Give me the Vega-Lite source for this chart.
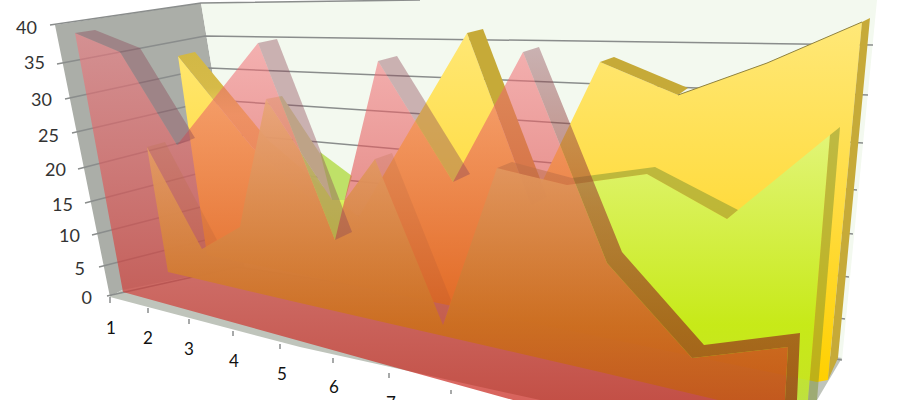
{"$schema":"https://vega.github.io/schema/vega-lite/v6.json","width":900,"height":400,"padding":0,"autosize":"none","background":"white","view":{"stroke":null},
"datasets":{
"leftWall":[{"k":"a","i":0,"pos":5.5,"value":40.44},{"k":"a","i":1,"pos":20.1,"value":43.7},{"k":"a","i":2,"pos":25,"value":-0.3},{"k":"a","i":3,"pos":12.2,"value":1.19},{"k":"a","i":4,"pos":11,"value":0.15}],
"backWall":[{"k":"a","i":0,"pos":20.1,"value":43.7},{"k":"a","i":1,"pos":42,"value":44.15},{"k":"a","i":2,"pos":87.7,"value":44.15},{"k":"a","i":3,"pos":84.2,"value":-9.19},{"k":"a","i":4,"pos":25,"value":-0.3}],
"floor":[{"k":"a","i":0,"pos":11,"value":0.15},{"k":"a","i":1,"pos":12.2,"value":1.19},{"k":"a","i":2,"pos":23.8,"value":4.59},{"k":"a","i":3,"pos":84.2,"value":-8.89},{"k":"a","i":4,"pos":81.7,"value":-15.11},{"k":"a","i":5,"pos":54,"value":-15.11},{"k":"a","i":6,"pos":30,"value":-7.26}],
"grid":[
{"k":"g40","i":0,"pos":5,"value":40.44},{"k":"g40","i":1,"pos":20.1,"value":43.7},{"k":"g40","i":2,"pos":42,"value":44.15},
{"k":"g35","i":0,"pos":5.7,"value":34.67},{"k":"g35","i":1,"pos":20.5,"value":38.81},{"k":"g35","i":2,"pos":87.3,"value":37.48},
{"k":"g30","i":0,"pos":6.5,"value":29.48},{"k":"g30","i":1,"pos":20.9,"value":34.07},{"k":"g30","i":2,"pos":86.8,"value":30.07},
{"k":"g25","i":0,"pos":7.2,"value":24.44},{"k":"g25","i":1,"pos":21.4,"value":29.33},{"k":"g25","i":2,"pos":86.3,"value":22.96},
{"k":"g20","i":0,"pos":7.8,"value":19.11},{"k":"g20","i":1,"pos":21.8,"value":24.44},{"k":"g20","i":2,"pos":85.7,"value":16},
{"k":"g15","i":0,"pos":8.5,"value":14.07},{"k":"g15","i":1,"pos":22.3,"value":19.41},{"k":"g15","i":2,"pos":85.3,"value":9.48},
{"k":"g10","i":0,"pos":9.2,"value":9.33},{"k":"g10","i":1,"pos":22.8,"value":14.52},{"k":"g10","i":2,"pos":84.9,"value":3.11},
{"k":"g5","i":0,"pos":9.9,"value":4.59},{"k":"g5","i":1,"pos":23.3,"value":9.63},{"k":"g5","i":2,"pos":84.5,"value":-3.11},
{"k":"g0","i":0,"pos":10.7,"value":0.3},{"k":"g0","i":1,"pos":23.8,"value":4.59},{"k":"g0","i":2,"pos":84.2,"value":-9.19},
{"k":"t1","i":0,"pos":11,"value":0.15},{"k":"t1","i":1,"pos":11,"value":-0.74},
{"k":"t2","i":0,"pos":14.8,"value":-1.48},{"k":"t2","i":1,"pos":14.8,"value":-2.22},
{"k":"t3","i":0,"pos":18.9,"value":-3.11},{"k":"t3","i":1,"pos":18.9,"value":-3.85},
{"k":"t4","i":0,"pos":23.3,"value":-4.89},{"k":"t4","i":1,"pos":23.3,"value":-5.63},
{"k":"t5","i":0,"pos":28,"value":-6.81},{"k":"t5","i":1,"pos":28,"value":-7.56},
{"k":"t6","i":0,"pos":33.3,"value":-8.89},{"k":"t6","i":1,"pos":33.3,"value":-9.63},
{"k":"t7","i":0,"pos":38.9,"value":-11.11},{"k":"t7","i":1,"pos":38.9,"value":-11.85},
{"k":"t8","i":0,"pos":45.1,"value":-13.63},{"k":"t8","i":1,"pos":45.1,"value":-14.22}],
"yellowFace":[{"k":"a","i":0,"pos":17.8,"value":35.85},{"k":"a","i":1,"pos":25.2,"value":22.37},{"k":"a","i":2,"pos":35,"value":9.78},{"k":"a","i":3,"pos":46.7,"value":39.26},{"k":"a","i":4,"pos":53.1,"value":13.78},{"k":"a","i":5,"pos":60,"value":34.96},{"k":"a","i":6,"pos":67.8,"value":30.07},{"k":"a","i":7,"pos":76.7,"value":34.81},{"k":"a","i":8,"pos":86.2,"value":40.89},{"k":"a","i":9,"pos":82.8,"value":-12.15},{"k":"a","i":10,"pos":81.7,"value":-12.44},{"k":"a","i":11,"pos":20.7,"value":6.37}],
"yellowFirstBand":[
{"k":"y1","i":0,"pos":17.8,"value":35.85},{"k":"y1","i":1,"pos":25.2,"value":22.37},{"k":"y1","i":2,"pos":35,"value":9.78},{"k":"y1","i":3,"pos":36.8,"value":10.81},{"k":"y1","i":4,"pos":26.8,"value":23.41},{"k":"y1","i":5,"pos":19.5,"value":36.44}],
"yellowBands":[
{"k":"y2","i":0,"pos":46.7,"value":39.26},{"k":"y2","i":1,"pos":48.3,"value":39.85},{"k":"y2","i":2,"pos":54.7,"value":14.96},{"k":"y2","i":3,"pos":53.1,"value":13.78},
{"k":"y3","i":0,"pos":60,"value":34.96},{"k":"y3","i":1,"pos":61.4,"value":35.7},{"k":"y3","i":2,"pos":68.8,"value":31.11},{"k":"y3","i":3,"pos":67.8,"value":30.07},
{"k":"y4","i":0,"pos":86.2,"value":40.89},{"k":"y4","i":1,"pos":87,"value":41.48},{"k":"y4","i":2,"pos":83.8,"value":-8.89},{"k":"y4","i":3,"pos":82.8,"value":-12.15}],
"yellowEdge":[{"k":"e","i":0,"pos":67.8,"value":30.07},{"k":"e","i":1,"pos":76.7,"value":34.81},{"k":"e","i":2,"pos":86.2,"value":40.89}],
"greenFace":[{"k":"a","i":0,"pos":14.7,"value":22.37},{"k":"a","i":1,"pos":20.2,"value":7.26},{"k":"a","i":2,"pos":24,"value":10.52},{"k":"a","i":3,"pos":24.5,"value":14.52},{"k":"a","i":4,"pos":26.6,"value":29.48},{"k":"a","i":5,"pos":33.2,"value":14.52},{"k":"a","i":6,"pos":34.5,"value":14.52},{"k":"a","i":7,"pos":37.5,"value":20.59},{"k":"a","i":8,"pos":44.3,"value":-4},{"k":"a","i":9,"pos":49.7,"value":19.26},{"k":"a","i":10,"pos":56.7,"value":16.74},{"k":"a","i":11,"pos":64.7,"value":18.37},{"k":"a","i":12,"pos":72.7,"value":11.7},{"k":"a","i":13,"pos":83,"value":24.15},{"k":"a","i":14,"pos":80.8,"value":-15.11},{"k":"a","i":15,"pos":71.8,"value":-15.11},{"k":"a","i":16,"pos":60,"value":-10.96},{"k":"a","i":17,"pos":30,"value":-0.74},{"k":"a","i":18,"pos":16.8,"value":3.85}],
"greenPaleBands":[
{"k":"g1","i":0,"pos":14.7,"value":22.37},{"k":"g1","i":1,"pos":20.2,"value":7.26},{"k":"g1","i":2,"pos":21.7,"value":8.59},{"k":"g1","i":3,"pos":16.5,"value":23.11},
{"k":"g3","i":0,"pos":37.5,"value":20.59},{"k":"g3","i":1,"pos":39.2,"value":21.48},{"k":"g3","i":2,"pos":45.1,"value":-0.3},{"k":"g3","i":3,"pos":44.3,"value":-4}],
"greenBands":[
{"k":"g4","i":0,"pos":49.7,"value":19.26},{"k":"g4","i":1,"pos":56.7,"value":16.74},{"k":"g4","i":2,"pos":64.7,"value":18.37},{"k":"g4","i":3,"pos":72.7,"value":11.7},{"k":"g4","i":4,"pos":73.8,"value":13.04},{"k":"g4","i":5,"pos":65.5,"value":19.41},{"k":"g4","i":6,"pos":57.2,"value":17.78},{"k":"g4","i":7,"pos":51.2,"value":20.15},
{"k":"g5","i":0,"pos":83,"value":24.15},{"k":"g5","i":1,"pos":84,"value":25.33},{"k":"g5","i":2,"pos":81.7,"value":-15.11},{"k":"g5","i":3,"pos":80.8,"value":-15.11}],
"greenTanBand":[{"k":"g2","i":0,"pos":26.6,"value":29.48},{"k":"g2","i":1,"pos":33.2,"value":14.52},{"k":"g2","i":2,"pos":34.6,"value":15.56},{"k":"g2","i":3,"pos":28.2,"value":29.93}],
"greenLimeBand":[{"k":"g2b","i":0,"pos":32,"value":21.63},{"k":"g2b","i":1,"pos":35.2,"value":18.07},{"k":"g2b","i":2,"pos":34.5,"value":14.52},{"k":"g2b","i":3,"pos":33.2,"value":14.52}],
"redFace":[{"k":"a","i":0,"pos":7.5,"value":39.26},{"k":"a","i":1,"pos":12,"value":36.44},{"k":"a","i":2,"pos":17.7,"value":22.67},{"k":"a","i":3,"pos":25.8,"value":37.78},{"k":"a","i":4,"pos":33.5,"value":8.59},{"k":"a","i":5,"pos":37.8,"value":35.11},{"k":"a","i":6,"pos":45.3,"value":17.19},{"k":"a","i":7,"pos":52.3,"value":36.44},{"k":"a","i":8,"pos":60.7,"value":5.19},{"k":"a","i":9,"pos":69.2,"value":-8.89},{"k":"a","i":10,"pos":78.8,"value":-7.26},{"k":"a","i":11,"pos":78.5,"value":-15.11},{"k":"a","i":12,"pos":51.3,"value":-15.11},{"k":"a","i":13,"pos":12.3,"value":0.89}],
"redBands":[
{"k":"r1","i":0,"pos":7.5,"value":39.26},{"k":"r1","i":1,"pos":12,"value":36.44},{"k":"r1","i":2,"pos":17.7,"value":22.67},{"k":"r1","i":3,"pos":19.5,"value":23.7},{"k":"r1","i":4,"pos":14,"value":37.04},{"k":"r1","i":5,"pos":9.5,"value":39.7},
{"k":"r2","i":0,"pos":25.8,"value":37.78},{"k":"r2","i":1,"pos":33.5,"value":8.59},{"k":"r2","i":2,"pos":35.2,"value":9.78},{"k":"r2","i":3,"pos":27.7,"value":38.37},
{"k":"r3","i":0,"pos":37.8,"value":35.11},{"k":"r3","i":1,"pos":45.3,"value":17.19},{"k":"r3","i":2,"pos":47,"value":18.37},{"k":"r3","i":3,"pos":39.7,"value":35.85}],
"redLastBand":[
{"k":"r4","i":0,"pos":52.3,"value":36.44},{"k":"r4","i":1,"pos":60.7,"value":5.19},{"k":"r4","i":2,"pos":69.2,"value":-8.89},{"k":"r4","i":3,"pos":78.8,"value":-7.26},{"k":"r4","i":4,"pos":78.5,"value":-15.11},{"k":"r4","i":5,"pos":79.7,"value":-15.11},{"k":"r4","i":6,"pos":80,"value":-5.19},{"k":"r4","i":7,"pos":70.4,"value":-6.96},{"k":"r4","i":8,"pos":62.2,"value":6.81},{"k":"r4","i":9,"pos":53.9,"value":37.19}],
"valueLabels":[{"label":"40","pos":3.7,"value":39.85},{"label":"35","pos":4.5,"value":34.67},{"label":"30","pos":5.2,"value":29.19},{"label":"25","pos":5.9,"value":23.85},{"label":"20","pos":6.6,"value":18.81},{"label":"15","pos":7.3,"value":13.63},{"label":"10","pos":8,"value":9.04},{"label":"5","pos":8.5,"value":4.15},{"label":"0","pos":9.2,"value":-0.15}],
"categoryLabels":[{"label":"1","pos":11.1,"value":-4.59},{"label":"2","pos":14.8,"value":-6.07},{"label":"3","pos":18.9,"value":-7.7},{"label":"4","pos":23.4,"value":-9.48},{"label":"5","pos":28.2,"value":-11.41},{"label":"6","pos":33.4,"value":-13.33},{"label":"7","pos":39.1,"value":-15.7}]
},
"encoding":{
"x":{"field":"pos","type":"quantitative","axis":null,"scale":{"domain":[0,90],"nice":false,"zero":false}},
"y":{"field":"value","type":"quantitative","axis":null,"scale":{"domain":[-15.11,44.15],"nice":false,"zero":false}}
},
"layer":[
{"data":{"name":"leftWall"},"mark":{"type":"line","fill":"#abaea8","strokeWidth":0},"encoding":{"order":{"field":"i"},"detail":{"field":"k"}}},
{"data":{"name":"backWall"},"mark":{"type":"line","fill":"#f3f9ef","strokeWidth":0},"encoding":{"order":{"field":"i"},"detail":{"field":"k"}}},
{"data":{"name":"floor"},"mark":{"type":"line","fill":"#bfc4bb","strokeWidth":0},"encoding":{"order":{"field":"i"},"detail":{"field":"k"}}},
{"data":{"name":"grid"},"mark":{"type":"line","stroke":"#8a8d8c","strokeWidth":1.5},"encoding":{"order":{"field":"i"},"detail":{"field":"k"}}},
{"data":{"name":"yellowFace"},"mark":{"type":"line","strokeWidth":0,"fill":{"gradient":"linear","x1":0,"y1":0,"x2":0,"y2":1,"stops":[{"offset":0,"color":"#ffe878"},{"offset":0.55,"color":"#ffdb3c"},{"offset":1,"color":"#ffd000"}]}},"encoding":{"order":{"field":"i"},"detail":{"field":"k"}}},
{"data":{"name":"yellowFirstBand"},"mark":{"type":"line","strokeWidth":0,"fill":{"gradient":"linear","x1":0,"y1":0,"x2":0,"y2":1,"stops":[{"offset":0,"color":"#d2b846"},{"offset":0.2,"color":"#d6ba48"},{"offset":0.35,"color":"#f2d060"},{"offset":1,"color":"#f8d868"}]}},"encoding":{"order":{"field":"i"},"detail":{"field":"k"}}},
{"data":{"name":"yellowBands"},"mark":{"type":"line","strokeWidth":0,"fill":"#c6aa38"},"encoding":{"order":{"field":"i"},"detail":{"field":"k"}}},
{"data":{"name":"yellowEdge"},"mark":{"type":"line","stroke":"#8f8240","strokeWidth":1},"encoding":{"order":{"field":"i"},"detail":{"field":"k"}}},
{"data":{"name":"greenFace"},"mark":{"type":"line","strokeWidth":0,"fill":{"gradient":"linear","x1":0,"y1":0,"x2":0,"y2":1,"stops":[{"offset":0,"color":"rgba(228,248,140,0.92)"},{"offset":0.75,"color":"rgba(198,234,24,0.98)"},{"offset":1,"color":"rgba(190,230,40,0.85)"}]}},"encoding":{"order":{"field":"i"},"detail":{"field":"k"}}},
{"data":{"name":"greenTanBand"},"mark":{"type":"line","strokeWidth":0,"fill":"#dfe2a8"},"encoding":{"order":{"field":"i"},"detail":{"field":"k"}}},
{"data":{"name":"greenLimeBand"},"mark":{"type":"line","strokeWidth":0,"fill":"#bfe168"},"encoding":{"order":{"field":"i"},"detail":{"field":"k"}}},
{"data":{"name":"greenPaleBands"},"mark":{"type":"line","strokeWidth":0,"fill":"rgba(125,145,45,0.25)"},"encoding":{"order":{"field":"i"},"detail":{"field":"k"}}},
{"data":{"name":"greenBands"},"mark":{"type":"line","strokeWidth":0,"fill":"rgba(125,145,45,0.5)"},"encoding":{"order":{"field":"i"},"detail":{"field":"k"}}},
{"data":{"name":"redFace"},"mark":{"type":"line","strokeWidth":0,"fill":{"gradient":"linear","x1":0,"y1":0,"x2":0,"y2":1,"stops":[{"offset":0,"color":"rgba(245,120,128,0.55)"},{"offset":1,"color":"rgba(197,25,15,0.68)"}]}},"encoding":{"order":{"field":"i"},"detail":{"field":"k"}}},
{"data":{"name":"redBands"},"mark":{"type":"line","strokeWidth":0,"fill":"rgba(140,70,85,0.4)"},"encoding":{"order":{"field":"i"},"detail":{"field":"k"}}},
{"data":{"name":"redLastBand"},"mark":{"type":"line","strokeWidth":0,"fill":{"gradient":"linear","x1":0,"y1":0,"x2":0,"y2":1,"stops":[{"offset":0,"color":"rgba(140,70,85,0.4)"},{"offset":0.45,"color":"rgba(160,65,45,0.62)"},{"offset":1,"color":"rgba(150,55,20,0.78)"}]}},"encoding":{"order":{"field":"i"},"detail":{"field":"k"}}},
{"data":{"name":"valueLabels"},"mark":{"type":"text","align":"right","baseline":"middle","font":"Lato","fontSize":18,"fill":"#333333"},"encoding":{"text":{"field":"label"}}},
{"data":{"name":"categoryLabels"},"mark":{"type":"text","align":"center","baseline":"middle","font":"Lato","fontSize":17,"fill":"#111111"},"encoding":{"text":{"field":"label"}}}
]}
